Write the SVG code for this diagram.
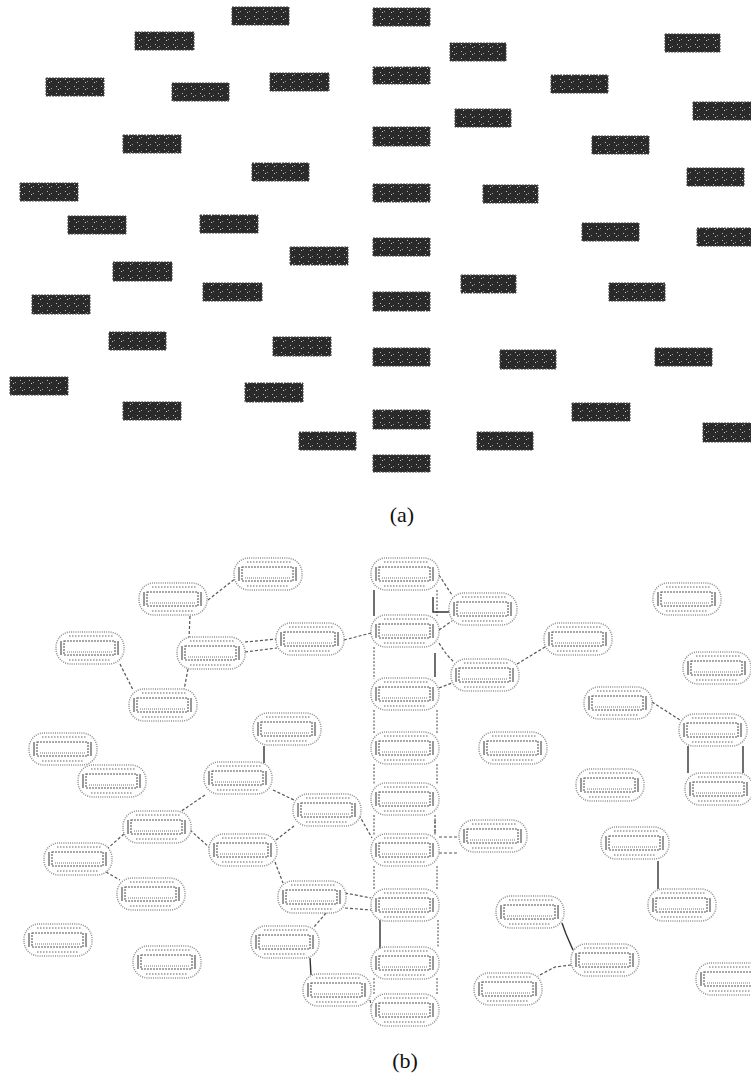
<svg xmlns="http://www.w3.org/2000/svg" xmlns:xlink="http://www.w3.org/1999/xlink" width="751" height="1083" viewBox="0 0 751 1083">
<style>
.blk{fill:url(#spk);stroke:#444;stroke-width:1;stroke-dasharray:2 1}
.cap{font-family:"Liberation Serif","DejaVu Serif",serif;font-size:22px;fill:#111;text-anchor:middle}
.con{fill:none;stroke:#555;stroke-width:1.2;stroke-dasharray:3 2}
.sol{fill:none;stroke:#333;stroke-width:1.4}
.col{fill:none;stroke:#666;stroke-width:1.2;stroke-dasharray:2 1.5}
</style>
<defs>
<pattern id="spk" width="9" height="7" patternUnits="userSpaceOnUse">
<rect width="9" height="7" fill="#2a2a2a"/>
<rect x="2" y="2" width="1" height="1" fill="#bbb"/>
<rect x="6" y="4" width="1" height="1" fill="#999"/>
<rect x="4" y="5" width="1" height="1" fill="#ccc"/>
</pattern>
<symbol id="nd" viewBox="0 0 70 34" width="70" height="34" overflow="visible">
<rect x="1" y="1" width="68" height="32" rx="15" fill="#fff" stroke="#8f8f8f" stroke-width="1.5" stroke-dasharray="1 1.2"/>
<line x1="14" y1="5" x2="58" y2="5" stroke="#999" stroke-width="1.6" stroke-dasharray="1.5 1.5"/>
<line x1="14" y1="29" x2="56" y2="29" stroke="#999" stroke-width="1.6" stroke-dasharray="1.5 1.5"/>
<rect x="9" y="10" width="51" height="14" fill="none" stroke="#555" stroke-width="1.1" stroke-dasharray="2 1"/>
<line x1="12" y1="21" x2="57" y2="21" stroke="#777" stroke-width="1" stroke-dasharray="1 1"/>
<line x1="6" y1="10" x2="6" y2="24" stroke="#555" stroke-width="1.2"/>
<line x1="63" y1="10" x2="63" y2="24" stroke="#555" stroke-width="1.2"/>
</symbol>
</defs>

<g id="part-a">
<rect class="blk" x="232" y="7" width="57" height="18"/>
<rect class="blk" x="373" y="8" width="57" height="18"/>
<rect class="blk" x="135" y="32" width="59" height="18"/>
<rect class="blk" x="450" y="43" width="56" height="18"/>
<rect class="blk" x="665" y="34" width="55" height="18"/>
<rect class="blk" x="46" y="78" width="58" height="18"/>
<rect class="blk" x="172" y="83" width="57" height="18"/>
<rect class="blk" x="270" y="73" width="59" height="18"/>
<rect class="blk" x="373" y="67" width="57" height="17"/>
<rect class="blk" x="551" y="75" width="57" height="18"/>
<rect class="blk" x="455" y="109" width="56" height="18"/>
<rect class="blk" x="693" y="102" width="58" height="18"/>
<rect class="blk" x="123" y="135" width="58" height="18"/>
<rect class="blk" x="373" y="127" width="57" height="19"/>
<rect class="blk" x="592" y="136" width="57" height="18"/>
<rect class="blk" x="252" y="163" width="57" height="18"/>
<rect class="blk" x="20" y="183" width="58" height="18"/>
<rect class="blk" x="373" y="184" width="57" height="18"/>
<rect class="blk" x="483" y="185" width="55" height="18"/>
<rect class="blk" x="687" y="168" width="57" height="18"/>
<rect class="blk" x="68" y="216" width="58" height="18"/>
<rect class="blk" x="200" y="215" width="58" height="18"/>
<rect class="blk" x="290" y="247" width="58" height="18"/>
<rect class="blk" x="373" y="238" width="57" height="18"/>
<rect class="blk" x="582" y="223" width="57" height="18"/>
<rect class="blk" x="697" y="228" width="54" height="18"/>
<rect class="blk" x="113" y="262" width="59" height="19"/>
<rect class="blk" x="203" y="283" width="59" height="18"/>
<rect class="blk" x="32" y="295" width="58" height="19"/>
<rect class="blk" x="461" y="275" width="55" height="18"/>
<rect class="blk" x="373" y="292" width="57" height="19"/>
<rect class="blk" x="609" y="283" width="56" height="18"/>
<rect class="blk" x="109" y="332" width="57" height="18"/>
<rect class="blk" x="273" y="337" width="58" height="19"/>
<rect class="blk" x="373" y="348" width="57" height="18"/>
<rect class="blk" x="500" y="350" width="56" height="19"/>
<rect class="blk" x="655" y="348" width="57" height="18"/>
<rect class="blk" x="10" y="377" width="58" height="18"/>
<rect class="blk" x="123" y="402" width="58" height="18"/>
<rect class="blk" x="245" y="383" width="58" height="19"/>
<rect class="blk" x="373" y="410" width="57" height="19"/>
<rect class="blk" x="572" y="403" width="58" height="18"/>
<rect class="blk" x="477" y="432" width="56" height="18"/>
<rect class="blk" x="299" y="432" width="57" height="18"/>
<rect class="blk" x="373" y="455" width="57" height="17"/>
<rect class="blk" x="703" y="423" width="48" height="19"/>
</g>
<text class="cap" x="402" y="522">(a)</text>

<g id="connectors">
<line class="sol" x1="374" y1="590" x2="374" y2="616"/>
<line class="col" x1="437" y1="590" x2="437" y2="616"/>
<line class="col" x1="374" y1="647" x2="374" y2="679"/>
<line class="sol" x1="435" y1="653" x2="435" y2="677"/>
<line class="col" x1="374" y1="710" x2="374" y2="733"/>
<line class="col" x1="437" y1="710" x2="437" y2="733"/>
<line class="col" x1="374" y1="764" x2="374" y2="784"/>
<line class="col" x1="437" y1="764" x2="437" y2="784"/>
<line class="col" x1="374" y1="815" x2="374" y2="835"/>
<line class="col" x1="435" y1="815" x2="435" y2="835"/>
<line class="col" x1="374" y1="866" x2="374" y2="890"/>
<line class="col" x1="437" y1="866" x2="437" y2="890"/>
<line class="sol" x1="380" y1="920" x2="380" y2="953"/>
<line class="col" x1="438" y1="920" x2="438" y2="948"/>
<line class="col" x1="374" y1="978" x2="374" y2="995"/>
<line class="col" x1="437" y1="978" x2="437" y2="995"/>
<line class="con" x1="208" y1="600" x2="236" y2="578"/>
<line class="con" x1="190" y1="616" x2="189" y2="638"/>
<line class="con" x1="245" y1="642" x2="277" y2="639"/>
<line class="con" x1="245" y1="652" x2="277" y2="648"/>
<line class="con" x1="344" y1="640" x2="371" y2="633"/>
<line class="con" x1="120" y1="664" x2="133" y2="690"/>
<line class="con" x1="188" y1="669" x2="184" y2="690"/>
<line class="sol" x1="264" y1="746" x2="264" y2="763"/>
<line class="con" x1="273" y1="790" x2="294" y2="800"/>
<line class="con" x1="205" y1="795" x2="180" y2="812"/>
<line class="con" x1="359" y1="815" x2="372" y2="838"/>
<line class="con" x1="124" y1="834" x2="108" y2="848"/>
<line class="con" x1="190" y1="830" x2="210" y2="848"/>
<line class="con" x1="106" y1="872" x2="120" y2="880"/>
<line class="con" x1="276" y1="840" x2="294" y2="826"/>
<line class="con" x1="275" y1="862" x2="283" y2="883"/>
<line class="con" x1="345" y1="893" x2="371" y2="898"/>
<line class="con" x1="345" y1="908" x2="371" y2="910"/>
<line class="con" x1="326" y1="913" x2="314" y2="927"/>
<line class="sol" x1="310" y1="958" x2="311" y2="975"/>
<line class="con" x1="370" y1="1000" x2="372" y2="1010"/>
<line class="con" x1="439" y1="575" x2="452" y2="595"/>
<path class="sol" d="M433 597 V612 H450"/>
<line class="con" x1="439" y1="630" x2="452" y2="621"/>
<path class="con" d="M439 643 Q446 655 454 662"/>
<line class="con" x1="439" y1="688" x2="452" y2="683"/>
<line class="con" x1="517" y1="664" x2="545" y2="647"/>
<line class="con" x1="652" y1="702" x2="680" y2="720"/>
<line class="sol" x1="688" y1="746" x2="688" y2="773"/>
<line class="sol" x1="743" y1="746" x2="743" y2="773"/>
<line class="con" x1="435" y1="820" x2="435" y2="833"/>
<line class="con" x1="439" y1="837" x2="459" y2="837"/>
<line class="con" x1="439" y1="853" x2="459" y2="853"/>
<line class="sol" x1="658" y1="861" x2="658" y2="889"/>
<path class="sol" d="M562 923 L566 934 L573 950"/>
<path class="con" d="M571 965 L555 967 L538 976"/>
</g>

<g id="nodes">
<use id="b1" href="#nd" x="233" y="557"/>
<use id="b2" href="#nd" x="138" y="582"/>
<use id="b3" href="#nd" x="275" y="622"/>
<use id="b4" href="#nd" x="176" y="636"/>
<use id="b5" href="#nd" x="55" y="631"/>
<use id="b6" href="#nd" x="128" y="688"/>
<use id="b7" href="#nd" x="252" y="712"/>
<use id="b8" href="#nd" x="28" y="732"/>
<use id="b9" href="#nd" x="77" y="764"/>
<use id="b10" href="#nd" x="203" y="761"/>
<use id="b11" href="#nd" x="292" y="793"/>
<use id="b12" href="#nd" x="122" y="810"/>
<use id="b13" href="#nd" x="208" y="833"/>
<use id="b14" href="#nd" x="43" y="842"/>
<use id="b15" href="#nd" x="116" y="877"/>
<use id="b16" href="#nd" x="23" y="923"/>
<use id="b17" href="#nd" x="132" y="945"/>
<use id="b18" href="#nd" x="277" y="880"/>
<use id="b19" href="#nd" x="250" y="925"/>
<use id="b20" href="#nd" x="302" y="973"/>
<use id="c1" href="#nd" x="370" y="557"/>
<use id="c2" href="#nd" x="370" y="614"/>
<use id="c3" href="#nd" x="370" y="677"/>
<use id="c4" href="#nd" x="370" y="731"/>
<use id="c5" href="#nd" x="370" y="782"/>
<use id="c6" href="#nd" x="370" y="833"/>
<use id="c7" href="#nd" x="370" y="888"/>
<use id="c8" href="#nd" x="370" y="946"/>
<use id="c9" href="#nd" x="370" y="993"/>
<use id="d1" href="#nd" x="448" y="592"/>
<use id="d2" href="#nd" x="450" y="658"/>
<use id="d3" href="#nd" x="543" y="622"/>
<use id="d4" href="#nd" x="652" y="582"/>
<use id="d5" href="#nd" x="682" y="651"/>
<use id="d6" href="#nd" x="583" y="686"/>
<use id="d7" href="#nd" x="678" y="713"/>
<use id="d8" href="#nd" x="684" y="772"/>
<use id="d9" href="#nd" x="478" y="731"/>
<use id="d10" href="#nd" x="575" y="768"/>
<use id="e1" href="#nd" x="458" y="819"/>
<use id="e2" href="#nd" x="600" y="826"/>
<use id="e3" href="#nd" x="647" y="888"/>
<use id="e4" href="#nd" x="495" y="895"/>
<use id="e5" href="#nd" x="570" y="943"/>
<use id="e6" href="#nd" x="473" y="972"/>
<use id="e7" href="#nd" x="695" y="962"/>
</g>
<text class="cap" x="405" y="1068">(b)</text>
</svg>
